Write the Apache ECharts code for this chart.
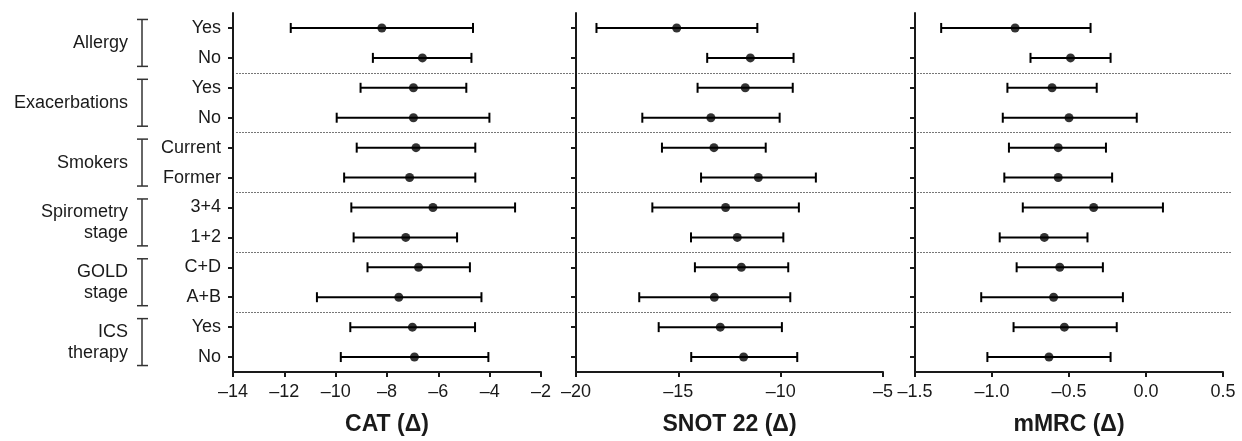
<!DOCTYPE html>
<html>
<head>
<meta charset="utf-8">
<script src="https://cdn.jsdelivr.net/npm/echarts@6/dist/echarts.min.js"></script>
<style>
  html, body { margin: 0; padding: 0; background: #fff; }
  #chart { width: 1242px; height: 441px; }
</style>
</head>
<body>
<div id="chart"></div>
<script>
// rows, top to bottom
const rowLabels = ['Yes', 'No', 'Yes', 'No', 'Current', 'Former', '3+4', '1+2', 'C+D', 'A+B', 'Yes', 'No'];
const groupLabels = ['Allergy', 'Exacerbations', 'Smokers', 'Spirometry\nstage', 'GOLD\nstage', 'ICS\ntherapy'];

// CAT (Δ)
const catMean = [-8.2, -6.62, -6.97, -6.97, -6.87, -7.12, -6.21, -7.27, -6.77, -7.54, -7.01, -6.93];
const catLow  = [-11.75, -8.55, -9.03, -9.96, -9.18, -9.67, -9.39, -9.3, -8.76, -10.73, -9.43, -9.8];
const catHigh = [-4.65, -4.71, -4.91, -4.01, -4.56, -4.56, -3.01, -5.27, -4.77, -4.32, -4.57, -4.05];

// SNOT 22 (Δ)
const snotMean = [-15.08, -11.48, -11.73, -13.41, -13.26, -11.09, -12.69, -12.12, -11.92, -13.24, -12.95, -11.81];
const snotLow  = [-19.0, -13.59, -14.06, -16.76, -15.8, -13.89, -16.27, -14.38, -14.19, -16.91, -15.96, -14.37];
const snotHigh = [-11.14, -9.37, -9.41, -10.05, -10.73, -8.28, -9.11, -9.87, -9.63, -9.53, -9.94, -9.19];

// mMRC (Δ)
const mrcMean = [-0.85, -0.49, -0.61, -0.5, -0.57, -0.57, -0.34, -0.66, -0.56, -0.6, -0.53, -0.63];
const mrcLow  = [-1.33, -0.75, -0.9, -0.93, -0.89, -0.92, -0.8, -0.95, -0.84, -1.07, -0.86, -1.03];
const mrcHigh = [-0.36, -0.23, -0.32, -0.06, -0.26, -0.22, 0.11, -0.38, -0.28, -0.15, -0.19, -0.23];

const FONT = '"Liberation Sans", Arial, sans-serif';
const INK = '#1a1a1a';

const chart = echarts.init(document.getElementById('chart'));

const panels = [
  { name: 'CAT (Δ)', mean: catMean, low: catLow, high: catHigh, min: -14, max: -2, interval: 2, dec: 0, left: 233, width: 308 },
  { name: 'SNOT 22 (Δ)', mean: snotMean, low: snotLow, high: snotHigh, min: -20, max: -5, interval: 5, dec: 0, left: 576, width: 307 },
  { name: 'mMRC (Δ)', mean: mrcMean, low: mrcLow, high: mrcHigh, min: -1.5, max: 0.5, interval: 0.5, dec: 1, left: 915, width: 308 }
];

const grids = [], xAxes = [], yAxes = [], series = [];

panels.forEach((p, i) => {
  grids.push({ left: p.left, width: p.width, top: 13, height: 359 });
  xAxes.push({
    gridIndex: i, type: 'value', min: p.min, max: p.max, interval: p.interval,
    name: p.name, nameLocation: 'middle', nameGap: 41,
    nameTextStyle: { fontFamily: FONT, fontSize: 23, fontWeight: 'bold', color: INK },
    axisLine: { show: true, onZero: false, lineStyle: { color: INK, width: 2 } },
    axisTick: { show: true, length: 5, lineStyle: { color: INK, width: 2 } },
    axisLabel: {
      margin: 11, fontFamily: FONT, fontSize: 18, color: INK,
      formatter: v => v.toFixed(p.dec).replace('-', '\u2013')
    },
    splitLine: { show: false }
  });
  yAxes.push({
    gridIndex: i, type: 'category', inverse: true, data: rowLabels,
    axisLine: { show: true, onZero: false, lineStyle: { color: INK, width: 2 } },
    axisTick: { show: true, alignWithLabel: true, length: 5, lineStyle: { color: INK, width: 2 } },
    axisLabel: { show: i === 0, margin: 12, fontFamily: FONT, fontSize: 18, color: INK },
    splitLine: { show: false }
  });
  // error bars
  series.push({
    type: 'custom', xAxisIndex: i, yAxisIndex: i,
    data: p.mean.map((_, k) => [p.low[k], p.high[k], k]),
    renderItem: (params, api) => {
      const a = api.coord([api.value(0), api.value(2)]);
      const b = api.coord([api.value(1), api.value(2)]);
      const h = 5;
      const style = { stroke: '#000', lineWidth: 2 };
      return {
        type: 'group',
        children: [
          { type: 'line', shape: { x1: a[0], y1: a[1], x2: b[0], y2: b[1] }, style },
          { type: 'line', shape: { x1: a[0], y1: a[1] - h, x2: a[0], y2: a[1] + h }, style },
          { type: 'line', shape: { x1: b[0], y1: b[1] - h, x2: b[0], y2: b[1] + h }, style }
        ]
      };
    },
    z: 2, silent: true
  });
  // point estimates
  series.push({
    type: 'scatter', xAxisIndex: i, yAxisIndex: i,
    data: p.mean.map((m, k) => [m, k]),
    symbol: 'circle', symbolSize: 9,
    itemStyle: { color: '#000' },
    z: 3, silent: true
  });
});

// full width grid for dotted group separators
grids.push({ left: 236, right: 10, top: 13, height: 359 });
xAxes.push({ gridIndex: 3, type: 'value', show: false, min: 0, max: 1 });
yAxes.push({
  gridIndex: 3, type: 'value', inverse: true, min: 0, max: 12, interval: 2,
  axisLine: { show: false }, axisTick: { show: false }, axisLabel: { show: false },
  splitLine: { show: true, showMinLine: false, showMaxLine: false, lineStyle: { color: '#777', width: 1, type: [2, 1] } }
});

chart.setOption({
  animation: false,
  backgroundColor: '#fff',
  textStyle: { fontFamily: FONT },
  grid: grids,
  xAxis: xAxes,
  yAxis: yAxes,
  series: series
});

// group labels and brackets on the left
const graphics = [];
groupLabels.forEach((g, gi) => {
  const yTop = chart.convertToPixel({ yAxisIndex: 0 }, gi * 2) - 8.5;
  const yBot = chart.convertToPixel({ yAxisIndex: 0 }, gi * 2 + 1) + 8.5;
  const bs = { stroke: '#333', lineWidth: 1.5 };
  graphics.push(
    { type: 'line', shape: { x1: 142, y1: yTop, x2: 142, y2: yBot }, style: bs },
    { type: 'line', shape: { x1: 137, y1: yTop, x2: 148, y2: yTop }, style: bs },
    { type: 'line', shape: { x1: 137, y1: yBot, x2: 148, y2: yBot }, style: bs },
    {
      type: 'text', x: 128, y: (yTop + yBot) / 2,
      style: {
        text: g, fill: INK, font: '18px ' + FONT, lineHeight: 21,
        align: 'right', verticalAlign: 'middle'
      }
    }
  );
});
chart.setOption({ graphic: graphics });
</script>
</body>
</html>
